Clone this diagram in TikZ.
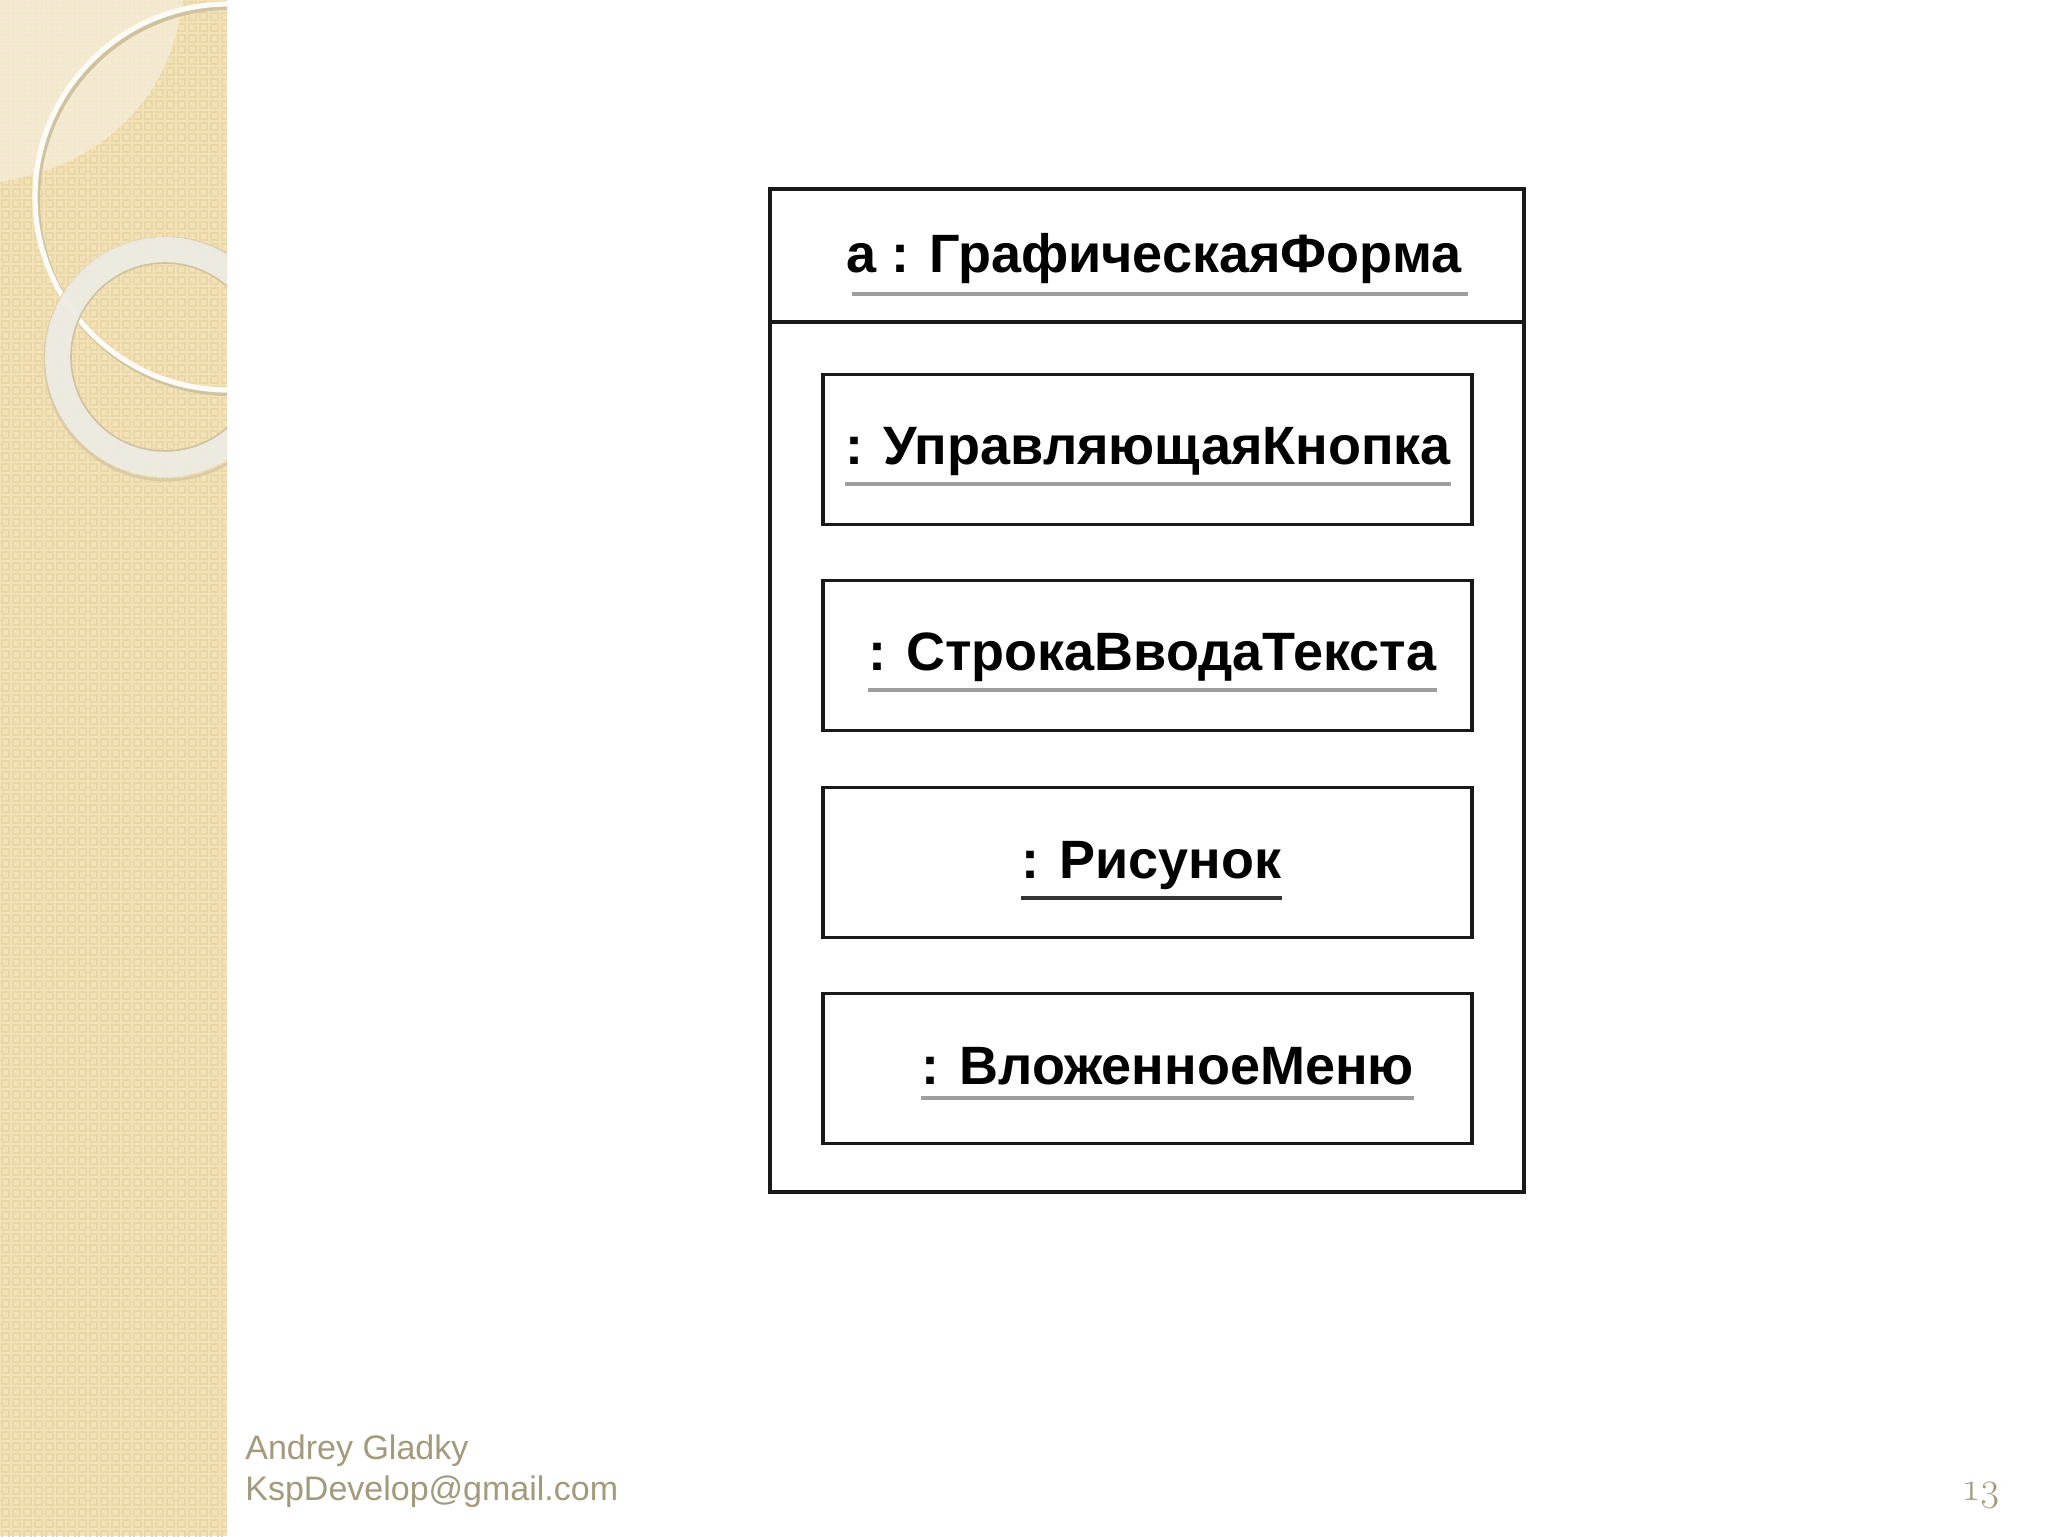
\documentclass[tikz,border=0pt]{standalone}
\usepackage{fontspec}
\setmainfont{Liberation Sans}
\newfontfamily\pgnumfont[Numbers=OldStyle]{Latin Modern Roman}
\definecolor{stripcol}{HTML}{F3E2B8}
\definecolor{patcol}{HTML}{EAD7A8}
\definecolor{lightcol}{HTML}{F6EEDA}
\definecolor{ringcol}{HTML}{EDEBE4}
\definecolor{ringedge}{HTML}{CFC2A0}
\definecolor{footcol}{HTML}{A39A7B}
\tikzset{
  objbox/.style={draw=black!90, line width=1.6pt, minimum width=324.5pt, minimum height=75pt, inner sep=0pt},
  outerbox/.style={draw=black!90, line width=1.6pt, minimum width=377pt, minimum height=501.5pt, inner sep=0pt},
  objtext/.style={font=\bfseries\fontsize{27}{31}\selectfont, inner sep=0pt, anchor=base west, text=black},
  ulgrey/.style={draw=black!38, line width=2.2pt},
  uldark/.style={draw=black!80, line width=1.8pt},
  foot/.style={font=\fontsize{17}{20}\selectfont, text=footcol, inner sep=0pt, anchor=base west},
}
\begin{document}
\begin{tikzpicture}[x=0.5pt,y=-0.5pt]
\useasboundingbox (0,0) rectangle (2048,1536);
\fill[white] (0,0) rectangle (2048,1536);
% left decorative strip
\begin{scope}
  \clip (0,0) rectangle (227,1536);
  \fill[stripcol] (0,0) rectangle (227,1536);
  \foreach \i in {0,...,20} {
    \foreach \j in {0,...,139} {
      \draw[patcol, line width=0.7pt] (\i*11+2,\j*11+2) rectangle ++(7,7);
    }
  }
  \fill[lightcol, opacity=0.75] (0,0) -- (183,0) .. controls (168,115) and (85,168) .. (0,182) -- cycle;
  % big thin ring
  \draw[ringedge, line width=3pt] (230,200) circle (193);
  \draw[white!75!lightcol, line width=2.6pt] (228,197) circle (193);
  % thick ring
  \draw[ringedge!70!stripcol, line width=1.5pt] (166,359) circle (121);
  \draw[ringcol, opacity=0.92, line width=13pt] (165,357) circle (107);
  \draw[ringedge, line width=0.8pt] (165,357) circle (94);
\end{scope}
% diagram
\coordinate (dv) at (0,322);
\node[outerbox] (outer) at (1147,690.5) {};
\draw[draw=black!90, line width=1.6pt] (outer.west |- dv) -- (outer.east |- dv);
\node[objtext] (t0) at (846,272) {a : ГрафическаяФорма};
\draw[ulgrey] ([yshift=-11pt,xshift=3pt]t0.base west) -- ([yshift=-11pt,xshift=3pt]t0.base east);

\node[objbox] (b1) at (1147.5,449.5) {};
\node[objtext] (t1) at (845,464) {: УправляющаяКнопка};
\draw[ulgrey] ([yshift=-10pt]t1.base west) -- ([yshift=-10pt]t1.base east);

\node[objbox] (b2) at (1147.5,655.5) {};
\node[objtext] (t2) at (868,670) {: СтрокаВводаТекста};
\draw[ulgrey] ([yshift=-10pt]t2.base west) -- ([yshift=-10pt]t2.base east);

\node[objbox] (b3) at (1147.5,862.5) {};
\node[objtext] (t3) at (1021,878) {: Рисунок};
\draw[uldark] ([yshift=-10pt]t3.base west) -- ([yshift=-10pt]t3.base east);

\node[objbox] (b4) at (1147.5,1068.5) {};
\node[objtext] (t4) at (921,1084) {: ВложенноеМеню};
\draw[ulgrey] ([yshift=-7pt]t4.base west) -- ([yshift=-7pt]t4.base east);

% footer
\node[foot] (f1) at (245,1459) {Andrey Gladky};
\node[foot] (f2) at (245,1500) {KspDevelop@gmail.com};
\node[font=\pgnumfont\fontsize{20}{22}\selectfont, text=footcol, inner sep=0pt, anchor=base west] (pg) at (1964,1500) {13};
\end{tikzpicture}
\end{document}
